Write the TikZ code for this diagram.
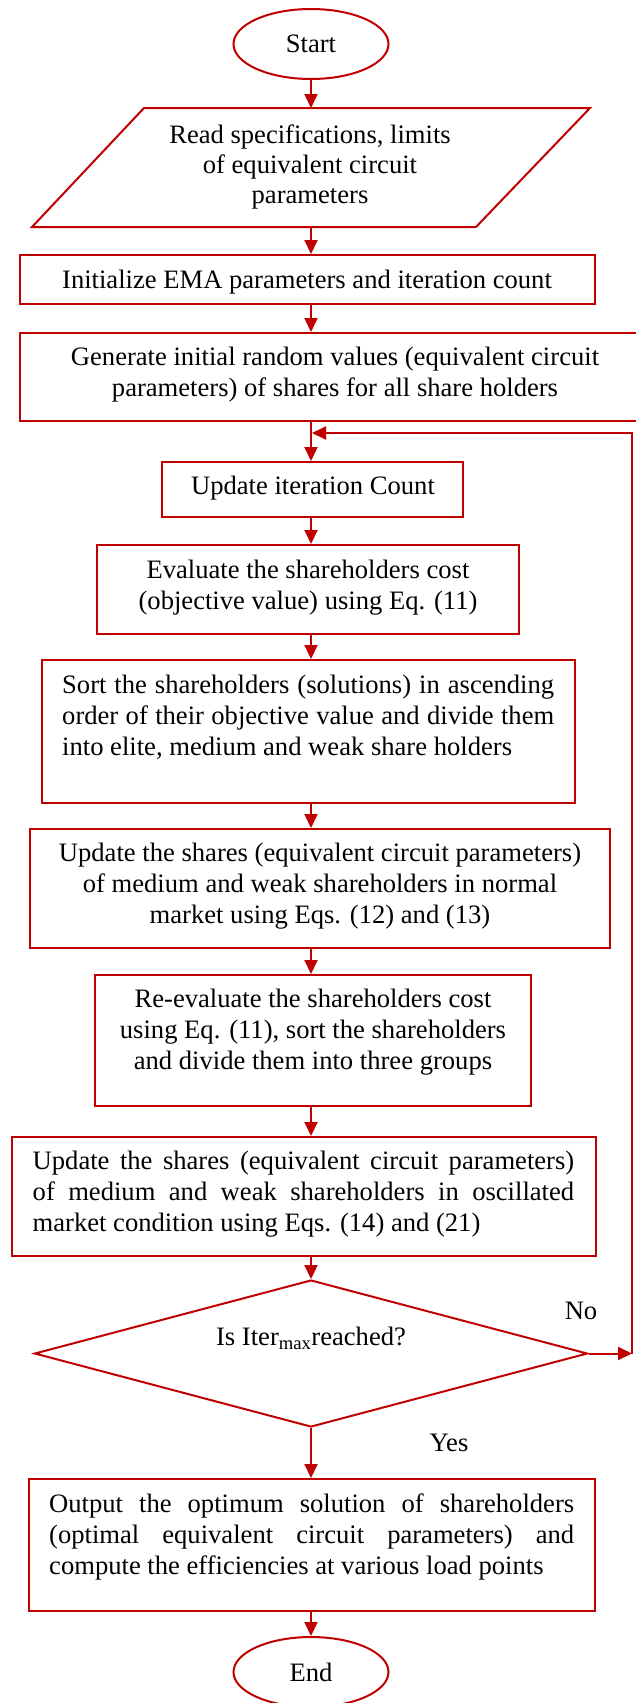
\documentclass[tikz,border=0pt]{standalone}
\usepackage{fontspec}
\setmainfont{Liberation Serif}
\usetikzlibrary{shapes.geometric,arrows.meta}
\definecolor{fred}{RGB}{192,0,0}
\begin{document}
\begin{tikzpicture}[x=1pt,y=-1pt,
  every node/.style={font=\fontsize{26.6}{31}\selectfont, inner sep=0pt},
  box/.style={draw=fred, line width=2pt, rectangle},
  term/.style={draw=fred, line width=2pt, ellipse, minimum width=155pt, minimum height=70pt},
  decis/.style={draw=fred, line width=2pt, diamond, minimum width=553pt, minimum height=147pt},
  txt/.style={text=black},
  arr/.style={draw=fred, line width=2pt, -{Triangle[length=14pt,width=13pt]}}]
\useasboundingbox (0,0) rectangle (636,1703);

% Start
\node[term] (start) at (311,44) {Start};

% Parallelogram
\coordinate (pTL) at (144,108);
\coordinate (pTR) at (590,108);
\coordinate (pBR) at (476,227);
\coordinate (pBL) at (32,227);
\draw[draw=fred, line width=2pt] (pTL) -- (pTR) -- (pBR) -- (pBL) -- cycle;
\coordinate (pTop) at (311,108);
\coordinate (pBot) at (311,227);
\node[txt, align=center, font=\fontsize{26.6}{30}\selectfont] (readT) at (310,167) {Read specifications, limits\\of equivalent circuit\\parameters};

% Boxes
\node[box, minimum width=575pt, minimum height=49pt] (init) at (307.5,279.5) {};
\node[txt] (initT) at (307,282) {Initialize EMA parameters and iteration count};

\node[box, minimum width=629pt, minimum height=88pt] (gen) at (334.75,377) {};
\node[txt, align=center] (genT) at (335,375) {Generate initial random values (equivalent circuit\\parameters) of shares for all share holders};

\node[box, minimum width=301pt, minimum height=55pt] (upd) at (312.5,489.5) {};
\node[txt] (updT) at (313,488) {Update iteration Count};

\node[box, minimum width=422pt, minimum height=89pt] (eval) at (308,589.5) {};
\node[txt, align=center] (evalT) at (308,587.5) {Evaluate the shareholders cost\\(objective value) using Eq. (11)};

\node[box, minimum width=533pt, minimum height=143pt] (sort) at (308.5,731.5) {};
\node[txt, align=left, anchor=west] (sortT) at (62,717.5) {\makebox[492pt][s]{Sort the shareholders (solutions) in ascending}\\\makebox[492pt][s]{order of their objective value and divide them}\\into elite, medium and weak share holders};

\node[box, minimum width=580pt, minimum height=119pt] (upsh) at (320,888.5) {};
\node[txt, align=center] (upshT) at (320,886) {Update the shares (equivalent circuit parameters)\\of medium and weak shareholders in normal\\market using Eqs. (12) and (13)};

\node[box, minimum width=436pt, minimum height=131pt] (reev) at (312.75,1040.5) {};
\node[txt, align=center] (reevT) at (313,1032.5) {Re-evaluate the shareholders cost\\using Eq. (11), sort the shareholders\\and divide them into three groups};

\node[box, minimum width=584pt, minimum height=119pt] (osc) at (304,1196.5) {};
\node[txt, align=left, anchor=west] (oscT) at (32.5,1194) {\makebox[541.5pt][s]{Update the shares (equivalent circuit parameters)}\\\makebox[541.5pt][s]{of medium and weak shareholders in oscillated}\\market condition using Eqs. (14) and (21)};

% Decision
\node[decis] (dia) at (311,1353.5) {};
\node[txt] (diaT) at (311,1338) {Is Iter\textsubscript{max}reached?};

\node[box, minimum width=566pt, minimum height=132pt] (out) at (311.8,1545) {};
\node[txt, align=left, anchor=west] (outT) at (49,1536.5) {\makebox[525pt][s]{Output the optimum solution of shareholders}\\\makebox[525pt][s]{(optimal equivalent circuit parameters) and}\\compute the efficiencies at various load points};

\node[term] (end) at (311,1672) {End};

% Labels
\node[txt] (no) at (581,1311) {No};
\node[txt] (yes) at (449,1443) {Yes};

% Connectors
\draw[arr] (start.south) -- (pTop);
\draw[arr] (pBot) -- (pBot |- init.north);
\draw[arr] (start.south |- init.south) -- (start.south |- gen.north);
\draw[arr] (start.south |- gen.south) -- (start.south |- upd.north);
\draw[arr] (start.south |- upd.south) -- (start.south |- eval.north);
\draw[arr] (start.south |- eval.south) -- (start.south |- sort.north);
\draw[arr] (start.south |- sort.south) -- (start.south |- upsh.north);
\draw[arr] (start.south |- upsh.south) -- (start.south |- reev.north);
\draw[arr] (start.south |- reev.south) -- (start.south |- osc.north);
\draw[arr] (start.south |- osc.south) -- (dia.north);
\draw[arr] (dia.south) -- (dia.south |- out.north);
\draw[arr] (start.south |- out.south) -- (end.north);

% Loop
\coordinate (loopR) at (632,1353.5);
\coordinate (loopJ) at (312,433);
\draw[arr] (dia.east) -- (loopR);
\draw[arr] (loopR) |- (loopJ);
\end{tikzpicture}
\end{document}
